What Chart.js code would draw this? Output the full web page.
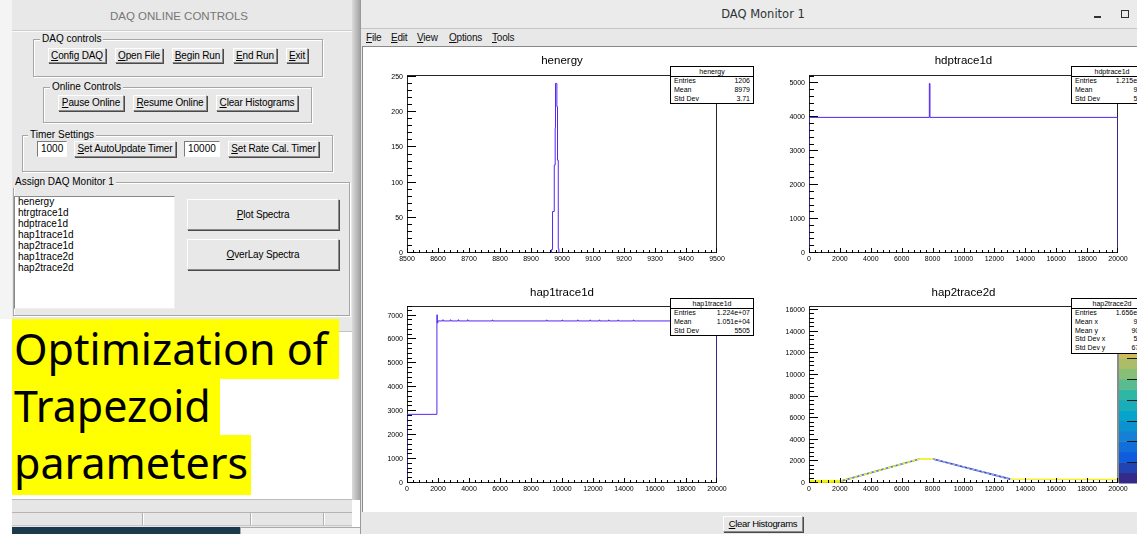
<!DOCTYPE html>
<html>
<head>
<meta charset="utf-8">
<title>DAQ Monitor 1</title>
<script src="https://cdn.jsdelivr.net/npm/chart.js@4.4.1/dist/chart.umd.min.js"></script>
<style>
  html, body { margin: 0; padding: 0; }
  body { width: 1137px; height: 534px; position: relative; overflow: hidden; background: #fff;
         font-family: "Liberation Sans", Arial, sans-serif; color: #000; }
  .a { position: absolute; box-sizing: border-box; }
  .btn { position: absolute; box-sizing: border-box; background: #e8e8e8; font-size: 10px; text-align: center;
         border: 1px solid; border-color: #fff #8a8a8a #8a8a8a #fff; box-shadow: 1px 1px 0 #4a4a4a;
         white-space: nowrap; line-height: 13px; letter-spacing: -0.15px; }
  .grp { position: absolute; box-sizing: border-box; border: 1px solid #a6a6a6;
         box-shadow: inset 1px 1px 0 #fff, 1px 1px 0 #fff; }
  .glab { position: absolute; background: #e8e8e8; font-size: 10px; padding: 0 2px; line-height: 12px; }
  .entry { position: absolute; box-sizing: border-box; background: #fff; font-size: 10px; line-height: 14px;
           border: 1px solid; border-color: #7a7a7a #fff #fff #7a7a7a; padding-left: 3px; }
  .menu { position: absolute; top: 31px; font-size: 10px; line-height: 14px; color: #111; letter-spacing: -0.2px; }
  .stat { position: absolute; background: #fff; border: 1px solid #000; font-size: 7px; color: #000; z-index: 5; }
  .stat .t { text-align: center; border-bottom: 1px solid #000; height: 9px; line-height: 9px; color: #000; }
  .stat .r { display: flex; justify-content: space-between; height: 8.8px; line-height: 8.8px; padding: 0 3px; }
  .ptitle { position: absolute; font-size: 11.5px; text-align: center; line-height: 14px; z-index: 4; }
  canvas { position: absolute; z-index: 3; }
  .ticks { position: absolute; z-index: 6; width: 0; height: 0; pointer-events: none; }
  .ticks div { position: absolute; background: #000; }
</style>
</head>
<body>

<!-- left: DAQ online controls -->
<div class="a" style="left:0;top:0;width:12px;height:319px;background:#f4f4f4"></div>
<div class="a" style="left:12px;top:0;width:340px;height:319px;background:#e8e8e8"></div>
<div class="a" style="left:12px;top:30px;width:340px;height:1px;background:#cdcdcd"></div>
<div class="a" style="left:12px;top:31px;width:340px;height:1px;background:#fafafa"></div>
<div class="a" style="left:12px;top:8px;width:334px;text-align:center;font-size:11.5px;line-height:16px;color:#767676">DAQ ONLINE CONTROLS</div>
<div class="a" style="left:352px;top:0;width:8px;height:500px;background:linear-gradient(to right,#dadada,#a4a4a4)"></div>

<div class="grp" style="left:33px;top:39px;width:290px;height:38px"></div>
<div class="glab" style="left:40px;top:33px">DAQ controls</div>
<div class="btn" style="left:48px;top:48px;width:58px;height:15px"><u>C</u>onfig DAQ</div>
<div class="btn" style="left:115px;top:48px;width:48px;height:15px"><u>O</u>pen File</div>
<div class="btn" style="left:172px;top:48px;width:51px;height:15px"><u>B</u>egin Run</div>
<div class="btn" style="left:233px;top:48px;width:44px;height:15px"><u>E</u>nd Run</div>
<div class="btn" style="left:286px;top:48px;width:22px;height:15px"><u>E</u>xit</div>

<div class="grp" style="left:43px;top:87px;width:269px;height:36px"></div>
<div class="glab" style="left:50px;top:81px">Online Controls</div>
<div class="btn" style="left:58px;top:95px;width:66px;height:16px"><u>P</u>ause Online</div>
<div class="btn" style="left:133px;top:95px;width:74px;height:16px"><u>R</u>esume Online</div>
<div class="btn" style="left:216px;top:95px;width:82px;height:16px"><u>C</u>lear Histograms</div>

<div class="grp" style="left:22px;top:135px;width:311px;height:37px"></div>
<div class="glab" style="left:28px;top:129px">Timer Settings</div>
<div class="entry" style="left:37px;top:141px;width:30px;height:16px">1000</div>
<div class="btn" style="left:74px;top:141px;width:102px;height:16px"><u>S</u>et AutoUpdate Timer</div>
<div class="entry" style="left:184px;top:141px;width:36px;height:16px">10000</div>
<div class="btn" style="left:228px;top:141px;width:91px;height:16px"><u>S</u>et Rate Cal. Timer</div>

<div class="grp" style="left:13px;top:182px;width:337px;height:134px"></div>
<div class="glab" style="left:13px;top:176px">Assign DAQ Monitor 1</div>
<div class="a" style="left:14px;top:196px;width:161px;height:113px;background:#fff;border:1px solid;border-color:#8a8a8a #f0f0f0 #f0f0f0 #8a8a8a;font-size:10px;line-height:11px;padding:0 0 0 3px">
  <div style="margin-top:-1px">henergy<br>htrgtrace1d<br>hdptrace1d<br>hap1trace1d<br>hap2trace1d<br>hap1trace2d<br>hap2trace2d</div>
</div>
<div class="btn" style="left:187px;top:199px;width:152px;height:31px;line-height:29px"><u>P</u>lot Spectra</div>
<div class="btn" style="left:187px;top:239px;width:152px;height:31px;line-height:29px"><u>O</u>verLay Spectra</div>

<!-- highlighted note -->
<div class="a" style="left:339px;top:317px;width:13px;height:15px;background:#e8e8e8;border-bottom:1px solid #c4c4c4"></div>
<div class="a" style="left:12px;top:319px;width:327px;height:60px;background:#ffff00"></div>
<div class="a" style="left:12px;top:379px;width:208px;height:56px;background:#ffff00"></div>
<div class="a" style="left:12px;top:435px;width:239px;height:60px;background:#ffff00"></div>
<div class="a" style="left:14px;top:320px;font-family:'Noto Sans',sans-serif;font-size:43px;line-height:57px;white-space:nowrap">Optimization of<br>Trapezoid<br>parameters</div>

<!-- bottom-left status strips -->
<div class="a" style="left:12px;top:499px;width:340px;height:28px;background:#e6e6e6;border-top:1px solid #bcbcbc"></div>
<div class="a" style="left:12px;top:512px;width:340px;height:14px;border-top:1px solid #b4b4b4;border-bottom:1px solid #c8c8c8"></div>
<div class="a" style="left:142px;top:513px;width:2px;height:12px;border-left:1px solid #b0b0b0;border-right:1px solid #fff"></div>
<div class="a" style="left:250px;top:513px;width:2px;height:12px;border-left:1px solid #b0b0b0;border-right:1px solid #fff"></div>
<div class="a" style="left:323px;top:513px;width:2px;height:12px;border-left:1px solid #b0b0b0;border-right:1px solid #fff"></div>
<div class="a" style="left:12px;top:527px;width:228px;height:7px;background:#1b3a4c"></div>
<div class="a" style="left:240px;top:527px;width:120px;height:7px;background:#f2f2f2;border-top:1px solid #aaa;border-left:1px solid #aaa"></div>

<!-- right: DAQ Monitor 1 window -->
<div class="a" style="left:360px;top:0;width:777px;height:534px;background:#e8e8e8;border-left:1px solid #9a9a9a"></div>
<div class="a" style="left:361px;top:0;width:776px;height:29px;background:#ebebeb;border-bottom:1px solid #c6c6c6"></div>
<div class="a" style="left:663px;top:6px;width:200px;text-align:center;font-family:'DejaVu Sans',sans-serif;font-size:11.5px;line-height:16px;color:#2e3436">DAQ Monitor 1</div>
<div class="a" style="left:1094px;top:16px;width:7px;height:2px;background:#2e3436"></div>
<div class="a" style="left:1121px;top:10px;width:8px;height:8px;border:1.5px solid #2e3436"></div>

<div class="menu" style="left:366px"><u>F</u>ile</div>
<div class="menu" style="left:391px"><u>E</u>dit</div>
<div class="menu" style="left:417px"><u>V</u>iew</div>
<div class="menu" style="left:449px"><u>O</u>ptions</div>
<div class="menu" style="left:492px"><u>T</u>ools</div>

<div class="a" style="left:362px;top:46px;width:775px;height:466px;background:#fff;border-top:1px solid #8a8a8a;border-left:1px solid #8a8a8a"></div>
<div class="btn" style="left:723px;top:516px;width:80px;height:16px;font-size:9.5px;letter-spacing:-0.3px;line-height:14px"><u>C</u>lear Histograms</div>

<canvas id="cA" width="387" height="233" style="left:362px;top:47px"></canvas>
<canvas id="cB" width="388" height="233" style="left:749px;top:47px"></canvas>
<canvas id="cC" width="387" height="232" style="left:362px;top:280px"></canvas>
<canvas id="cD" width="388" height="232" style="left:749px;top:280px"></canvas>

<div class="ptitle" style="left:407px;top:53px;width:310px">henergy</div>
<div class="ptitle" style="left:809px;top:53px;width:309px">hdptrace1d</div>
<div class="ptitle" style="left:407px;top:285px;width:310px">hap1trace1d</div>
<div class="ptitle" style="left:809px;top:285px;width:309px">hap2trace2d</div>

<div class="stat" style="left:670px;top:66px;width:82px">
  <div class="t">henergy</div>
  <div class="r"><span>Entries</span><span>1206</span></div>
  <div class="r"><span>Mean</span><span>8979</span></div>
  <div class="r"><span>Std Dev</span><span>3.71</span></div>
</div>
<div class="stat" style="left:1071px;top:66px;width:80px">
  <div class="t">hdptrace1d</div>
  <div class="r"><span>Entries</span><span>1.215e+07</span></div>
  <div class="r"><span>Mean</span><span>9999</span></div>
  <div class="r"><span>Std Dev</span><span>5773</span></div>
</div>
<div class="stat" style="left:670px;top:298px;width:82px">
  <div class="t">hap1trace1d</div>
  <div class="r"><span>Entries</span><span>1.224e+07</span></div>
  <div class="r"><span>Mean</span><span>1.051e+04</span></div>
  <div class="r"><span>Std Dev</span><span>5505</span></div>
</div>
<div class="stat" style="left:1071px;top:298px;width:80px">
  <div class="t">hap2trace2d</div>
  <div class="r"><span>Entries</span><span>1.656e+07</span></div>
  <div class="r"><span>Mean x</span><span>9999</span></div>
  <div class="r"><span>Mean y</span><span>901.2</span></div>
  <div class="r"><span>Std Dev x</span><span>5773</span></div>
  <div class="r"><span>Std Dev y</span><span>674.3</span></div>
</div>

<script>
// histogram contents
const henergyEdges  = [8966, 8969.5, 8975, 8978, 8979, 8983.5, 8985.5, 8988, 8990];
const henergyCounts = [5, 59, 125, 178, 241, 208, 132, 6];
const henergyXTicks = [8500, 8600, 8700, 8800, 8900, 9000, 9100, 9200, 9300, 9400, 9500];
const henergyYTicks = [0, 50, 100, 150, 200, 250];

const hdpEdges  = [0, 7790, 7830, 20000];
const hdpCounts = [4000, 5000, 4000];
const hdpYTicks = [0, 1000, 2000, 3000, 4000, 5000];

const hap1Edges  = [0, 1930, 1955, 1990, 2300, 2340, 2800, 2840, 3300, 3340, 3900, 3940, 5500, 5540,
                    9000, 9040, 10000, 10040, 11000, 11040, 11800, 11840, 12400, 12440, 13000, 13040,
                    13600, 13640, 14600, 14640, 20000];
const hap1Counts = [2870, 7030, 6690, 6775, 6820, 6775, 6820, 6775, 6820, 6775, 6820, 6775, 6815, 6775,
                    6815, 6775, 6815, 6775, 6815, 6775, 6815, 6775, 6815, 6775, 6815, 6775, 6815, 6775,
                    6815, 6775];
const hap1YTicks = [0, 1000, 2000, 3000, 4000, 5000, 6000, 7000];

// trapezoid trace in the 2d histogram
const trapX = [0, 2000, 7150, 8030, 13030, 20000];
const trapY = [150, 150, 2220, 2220, 360, 330];
const hap2YTicks = [0, 2000, 4000, 6000, 8000, 10000, 12000, 14000, 16000];

const traceXTicks = [0, 2000, 4000, 6000, 8000, 10000, 12000, 14000, 16000, 18000, 20000];

const HIST_COLOR = '#5526f0';
const LABEL_FONT = { family: 'Liberation Sans, Arial, sans-serif', size: 7 };
const trapUnder  = ['#f2f20c', '#4a74d2', '#ecee1a', '#3546c6', '#f2f21a'];
const trapOver   = ['rgba(0,0,0,0)', '#eef21c', 'rgba(0,0,0,0)', '#9aaae8', 'rgba(0,0,0,0)'];
const trapWidth  = [3, 1.6, 1.6, 1.6, 1.4];
// kBird colour bands, bottom to top
const birdBands = ['#352a87', '#2243b2', '#0f5cdd', '#126ed9', '#1481d6', '#0d92d0', '#06a4ca', '#1aadb7',
                   '#2eb7a4', '#5abb8e', '#87bf77', '#acbd68', '#d1bb59', '#e8c246', '#fec832', '#fce220', '#f9fb0e'];

// tick settings per canvas
const frameCfg = {};

function histPoints(edges, counts) {
  const pts = [{ x: edges[0], y: 0 }];
  counts.forEach((c, i) => pts.push({ x: edges[i], y: c }));
  pts.push({ x: edges[edges.length - 1], y: 0 });
  return pts;
}

// all tick positions (major + minor) between lo and hi
function tickValues(lo, hi, step) {
  const out = [];
  for (let i = Math.ceil(lo / step - 1e-9); i * step <= hi + 1e-9; i++) out.push(i * step);
  return out;
}

// ROOT style frame round the plot area
const rootFrame = {
  id: 'rootFrame',
  beforeDatasetsDraw(chart) {
    const ctx = chart.ctx, a = chart.chartArea;
    ctx.save();
    ctx.strokeStyle = '#262626';
    ctx.lineWidth = 1;
    ctx.strokeRect(a.left + 0.5, a.top + 0.5, a.right - a.left - 1, a.bottom - a.top - 1);
    ctx.restore();
  }
};

// inward ROOT ticks, placed from the chart's own scales into a layer over the canvas
const rootTicks = {
  id: 'rootTicks',
  afterDraw(chart) {
    const o = frameCfg[chart.canvas.id];
    if (!o) return;
    if (o.layer) o.layer.remove();
    const a = chart.chartArea, xs = chart.scales.x, ys = chart.scales.y;
    const w = a.right - a.left, h = a.bottom - a.top;
    const layer = document.createElement('div');
    layer.className = 'ticks';
    layer.style.left = chart.canvas.offsetLeft + 'px';
    layer.style.top = chart.canvas.offsetTop + 'px';
    const mark = (l, t, mw, mh) => {
      const d = document.createElement('div');
      d.style.left = l + 'px'; d.style.top = t + 'px';
      d.style.width = mw + 'px'; d.style.height = mh + 'px';
      layer.appendChild(d);
    };
    tickValues(o.xr[0], o.xr[1], o.xMinor).forEach(v => {
      const len = Math.round(o.xTicks.indexOf(v) >= 0 ? h * 0.03 : h * 0.015);
      const px = Math.min(Math.round(xs.getPixelForValue(v)), a.right - 1);
      mark(px, a.bottom - len, 1, len);
    });
    tickValues(o.yr[0], o.yr[1], o.yMinor).forEach(v => {
      const len = Math.round(o.yTicks.indexOf(v) >= 0 ? w * 0.03 : w * 0.015);
      const py = Math.max(Math.round(ys.getPixelForValue(v)) - 1, a.top);
      mark(a.left, py, len, 1);
    });
    document.body.appendChild(layer);
    o.layer = layer;
  }
};

// colour palette to the right of the 2d frame
const paletteBar = {
  id: 'paletteBar',
  afterDraw(chart) {
    const ctx = chart.ctx, a = chart.chartArea;
    const bh = (a.bottom - a.top) / birdBands.length;
    const x0 = a.right + 1;
    ctx.save();
    birdBands.forEach((c, i) => {
      ctx.fillStyle = c;
      ctx.fillRect(x0, a.bottom - (i + 1) * bh, chart.width - x0, bh + 0.5);
    });
    ctx.fillStyle = '#8a8a8a';
    ctx.fillRect(a.right - 1, a.top, 2, a.bottom - a.top);
    ctx.fillStyle = '#1a1a1a';
    for (let i = 2; i < birdBands.length; i += 2) {
      ctx.fillRect(chart.width - 10, Math.round(a.bottom - i * bh), 10, 1);
    }
    ctx.restore();
  }
};

function axis(min, max, ticks, size, isX) {
  return {
    type: 'linear', min, max,
    grid: { display: false, drawTicks: false },
    border: { display: false },
    ticks: { color: '#000', font: LABEL_FONT, padding: isX ? 2 : 4, autoSkip: false, maxRotation: 0,
             includeBounds: false, callback: v => String(v) },
    afterBuildTicks: s => { s.ticks = ticks.map(v => ({ value: v })); },
    afterFit: s => { if (isX) s.height = size; else s.width = size; }
  };
}

function rootChart(id, c) {
  frameCfg[id] = { xr: c.xr, yr: c.yr, xTicks: c.xTicks, yTicks: c.yTicks, xMinor: c.xMinor, yMinor: c.yMinor };
  return new Chart(document.getElementById(id), {
    type: 'line',
    data: { datasets: c.datasets },
    options: {
      responsive: false, animation: false, devicePixelRatio: 1,
      layout: { padding: { left: 0, top: c.top, right: c.right, bottom: 0 } },
      elements: { point: { radius: 0 }, line: { tension: 0 } },
      plugins: { legend: { display: false }, tooltip: { enabled: false } },
      scales: {
        x: axis(c.xr[0], c.xr[1], c.xTicks, c.xh, true),
        y: axis(c.yr[0], c.yr[1], c.yTicks, c.yw, false)
      }
    },
    plugins: c.palette ? [rootFrame, rootTicks, paletteBar] : [rootFrame, rootTicks]
  });
}

function histSet(edges, counts) {
  return { data: histPoints(edges, counts), borderColor: HIST_COLOR, borderWidth: 1, stepped: 'before', fill: false };
}

rootChart('cA', {
  datasets: [histSet(henergyEdges, henergyCounts)],
  xr: [8500, 9500], yr: [0, 253], xTicks: henergyXTicks, yTicks: henergyYTicks, xMinor: 20, yMinor: 10,
  top: 28, right: 32, xh: 27, yw: 45
});
rootChart('cB', {
  datasets: [histSet(hdpEdges, hdpCounts)],
  xr: [0, 20000], yr: [0, 5250], xTicks: traceXTicks, yTicks: hdpYTicks, xMinor: 400, yMinor: 200,
  top: 28, right: 19, xh: 27, yw: 60
});
rootChart('cC', {
  datasets: [histSet(hap1Edges, hap1Counts)],
  xr: [0, 20000], yr: [0, 7400], xTicks: traceXTicks, yTicks: hap1YTicks, xMinor: 400, yMinor: 200,
  top: 26, right: 32, xh: 29, yw: 45
});

const trapPts = () => trapX.map((x, i) => ({ x, y: trapY[i] }));
rootChart('cD', {
  datasets: [
    { data: trapPts(), fill: false, borderWidth: 1.6, borderDash: [3, 2], borderColor: '#eef21c', order: 0,
      segment: { borderColor: s => trapOver[s.p0DataIndex] } },
    { data: trapPts(), fill: false, borderWidth: 1.6, borderColor: '#4a74d2', order: 1,
      segment: { borderColor: s => trapUnder[s.p0DataIndex], borderWidth: s => trapWidth[s.p0DataIndex] } }
  ],
  xr: [0, 20000], yr: [0, 16384], xTicks: traceXTicks, yTicks: hap2YTicks, xMinor: 400, yMinor: 400,
  top: 26, right: 19, xh: 29, yw: 60, palette: true
});
</script>
</body>
</html>
